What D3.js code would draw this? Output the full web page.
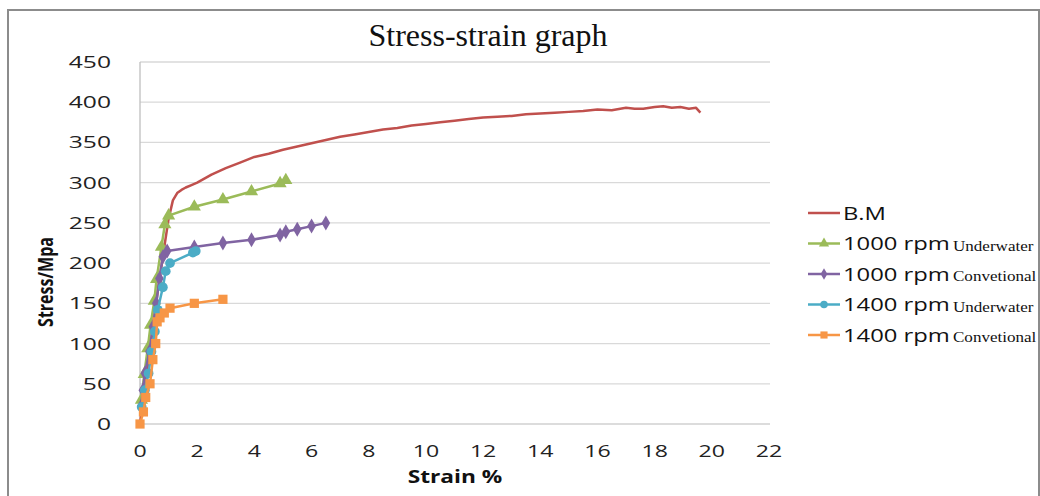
<!DOCTYPE html>
<html><head><meta charset="utf-8">
<script src="https://cdn.jsdelivr.net/npm/d3@7"></script>
<style>body{margin:0;background:#fff;}svg{display:block;}</style>
</head><body><svg id="c" width="1040" height="496"></svg>
<script>
const xTicks = [0,2,4,6,8,10,12,14,16,18,20,22];
const yTicks = [0,50,100,150,200,250,300,350,400,450];
const seriesNames = ["B.M","1000 rpm","1000 rpm","1400 rpm","1400 rpm"];
const seriesSub = ["","Underwater","Convetional","Underwater","Convetional"];
const bmStrain = [0,0.3,0.6,0.85,1.0,1.15,1.3,1.45,1.6,1.8,2.0,2.5,3.0,3.5,4.0,4.5,5.0,5.5,6.0,6.5,7.0,7.5,8.0,8.5,9.0,9.5,10.0,10.5,11.0,11.5,12.0,12.5,13.0,13.5,14.0,14.5,15.0,15.5,16.0,16.5,17.0,17.3,17.6,18.0,18.3,18.6,18.9,19.2,19.45,19.6];
const bmStress = [0,80,160,220,255,278,287,291,294,297,300,310,318,325,332,336,341,345,349,353,357,360,363,366,368,371,373,375,377,379,381,382,383,385,386,387,388,389,391,390,393,392,392,394,395,393,394,392,393,387];
const g1Strain = [0.05,0.15,0.27,0.37,0.5,0.58,0.75,0.87,1.0,1.9,2.9,3.9,4.9,5.1];
const g1Stress = [30,62,94,123,153,180,220,248,259,270,279,289,299,303];
const p1Strain = [0.04,0.1,0.17,0.33,0.45,0.57,0.68,0.8,0.95,1.9,2.9,3.9,4.9,5.1,5.5,6.0,6.5];
const p1Stress = [22,42,63,90,121,150,181,208,215,220,225,229,235,239,242,246,250];
const c1Strain = [0.06,0.17,0.3,0.4,0.52,0.62,0.8,0.9,1.05,1.85,1.95];
const c1Stress = [21,42,63,90,115,142,170,190,200,213,215];
const o1Strain = [0,0.12,0.2,0.35,0.45,0.55,0.6,0.7,0.85,1.05,1.9,2.9];
const o1Stress = [0,15,33,50,80,100,127,132,138,144,150,155];
const colors = ["#C0504D","#9BBB59","#8064A2","#4BACC6","#F79646"];
const markers = [null,"triangle","diamond","circle","square"];

const svg = d3.select("#c");
svg.append("rect").attr("x",8).attr("y",10).attr("width",1031).attr("height",510)
  .attr("fill","#fff").attr("stroke","#8c8c8c").attr("stroke-width",2);

const L=140,R=769,T=62,B=424;
const x = d3.scaleLinear().domain([0,22]).range([L,R]);
const y = d3.scaleLinear().domain([0,450]).range([B,T]);

const font = "'Open Sans', 'Noto Sans', sans-serif";
const serif = "'Liberation Serif', 'DejaVu Serif', serif";
function stext(px,py,str,opts){
  const t = svg.append("text")
    .attr("transform",`translate(${px},${py}) scale(${opts.sx||1},1)`)
    .attr("text-anchor",opts.anchor||"start")
    .attr("font-family",opts.family||font)
    .attr("font-size",opts.size)
    .attr("font-weight",opts.weight||"normal")
    .attr("fill",opts.fill||"#222")
    .text(str);
  return t;
}

// gridlines
svg.append("g").selectAll("line").data(yTicks.filter(d=>d>0)).join("line")
  .attr("x1",L).attr("x2",R+1).attr("y1",d=>y(d)).attr("y2",d=>y(d))
  .attr("stroke","#d9d9d9").attr("stroke-width",1.3);
// axes lines
svg.append("line").attr("x1",L).attr("x2",L).attr("y1",T).attr("y2",B).attr("stroke","#bfbfbf").attr("stroke-width",1.3);
svg.append("line").attr("x1",L).attr("x2",R+1).attr("y1",B).attr("y2",B).attr("stroke","#d0d0d0").attr("stroke-width",1.5);

// y tick labels
yTicks.forEach(v=>stext(111, y(v)+6, String(v), {size:17, sx:1.45, anchor:"end"}));
// x tick labels
xTicks.forEach(v=>stext(x(v), 457, String(v), {size:16.5, sx:1.4, anchor:"middle"}));

// titles
stext(488, 46, "Stress-strain graph", {family:serif, size:32, fill:"#111", anchor:"middle"});
stext(455, 483, "Strain %", {size:17.5, sx:1.3, weight:"bold", fill:"#111", anchor:"middle"});
svg.append("text").attr("transform","translate(53,282) rotate(-90) scale(1,1.35)").attr("text-anchor","middle")
  .attr("font-family",font).attr("font-weight","bold").attr("font-size",16).attr("fill","#111")
  .text("Stress/Mpa");

// series
const data = [
  d3.zip(bmStrain,bmStress),
  d3.zip(g1Strain,g1Stress),
  d3.zip(p1Strain,p1Stress),
  d3.zip(c1Strain,c1Stress),
  d3.zip(o1Strain,o1Stress)
];
const line = d3.line().x(d=>x(d[0])).y(d=>y(d[1]));
const symType = {triangle:d3.symbolTriangle, diamond:d3.symbolDiamond, circle:d3.symbolCircle, square:d3.symbolSquare};
const symSize = {triangle:75, diamond:65, circle:75, square:85};
data.forEach((pts,i)=>{
  const g = svg.append("g");
  g.append("path").attr("d",line(pts)).attr("fill","none").attr("stroke",colors[i])
    .attr("stroke-width",2.5).attr("stroke-linejoin","round");
  if(markers[i]){
    g.selectAll("path.m").data(pts).join("path").attr("class","m")
      .attr("transform",d=>`translate(${x(d[0])},${y(d[1])})`)
      .attr("d",d3.symbol().type(symType[markers[i]]).size(symSize[markers[i]]))
      .attr("fill",colors[i]);
  }
});

// legend
seriesNames.forEach((n,i)=>{
  const yy = 213 + i*30.5;
  svg.append("line").attr("x1",808).attr("x2",840).attr("y1",yy).attr("y2",yy)
    .attr("stroke",colors[i]).attr("stroke-width",2.5);
  if(markers[i]){
    svg.append("path").attr("transform",`translate(824,${yy})`)
      .attr("d",d3.symbol().type(symType[markers[i]]).size(symSize[markers[i]]*0.6))
      .attr("fill",colors[i]);
  }
  stext(843, yy+6.5, n, {size:17.5, sx:1.36, fill:"#111"});
  if(seriesSub[i]) stext(953, yy+7, seriesSub[i], {family:serif, size:15.5, sx:1.1, fill:"#111"});
});
</script></body></html>
